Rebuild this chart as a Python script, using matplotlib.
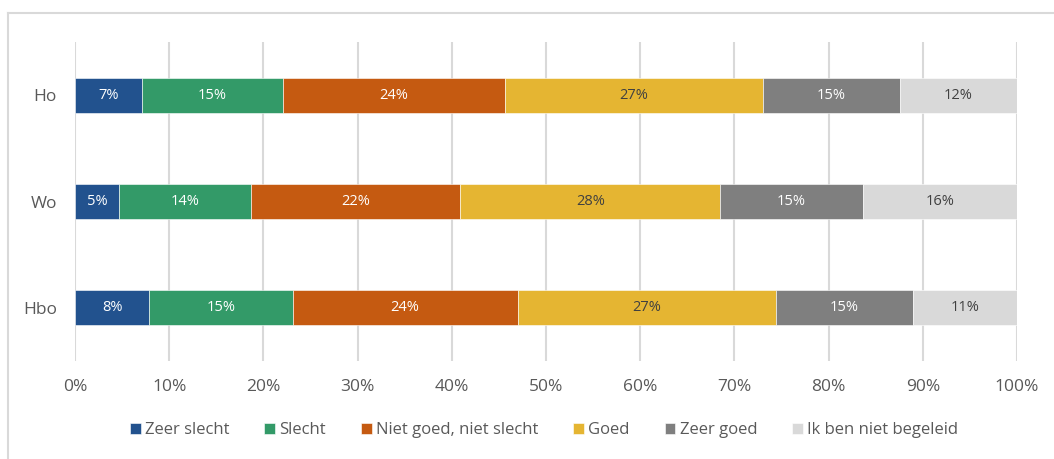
import numpy as np
import matplotlib
matplotlib.use("Agg")
import matplotlib.pyplot as plt
from matplotlib.lines import Line2D

plt.rcParams['font.family'] = ['Open Sans', 'DejaVu Sans']

# Données (en %)
categories = ["Ho", "Wo", "Hbo"]
reponses = ["Zeer slecht", "Slecht", "Niet goed, niet slecht", "Goed",
            "Zeer goed", "Ik ben niet begeleid"]
zeer_slecht = [7.1, 4.7, 7.9]
slecht = [15.0, 14.0, 15.2]
neutraal = [23.5, 22.2, 23.9]
goed = [27.4, 27.6, 27.4]
zeer_goed = [14.6, 15.1, 14.6]
niet_begeleid = [12.4, 16.4, 11.0]

series = [zeer_slecht, slecht, neutraal, goed, zeer_goed, niet_begeleid]
couleurs = ["#22528E", "#339A68", "#C55A11", "#E5B532", "#7F7F7F", "#D9D9D9"]
couleurs_txt = ["white", "white", "white", "#404040", "white", "#404040"]

fig = plt.figure(figsize=(10.54, 4.59), dpi=100)
ax = fig.add_axes([75 / 1054, (459 - 361) / 459, 942 / 1054, 319 / 459])

# cadre gris clair autour du graphique
fig.add_artist(Line2D([8 / 1054, 1], [1 - 13 / 459, 1 - 13 / 459],
                      transform=fig.transFigure, color="#D9D9D9", lw=1.5))
fig.add_artist(Line2D([8 / 1054, 8 / 1054], [0, 1 - 13 / 459],
                      transform=fig.transFigure, color="#D9D9D9", lw=1.5))

y = np.arange(len(categories))
gauche = np.zeros(len(categories))
for vals, nom, c, ct in zip(series, reponses, couleurs, couleurs_txt):
    vals = np.array(vals)
    ax.barh(y, vals, left=gauche, height=0.33, color=c,
            edgecolor="white", linewidth=0.4, label=nom, zorder=3)
    for yi, g, v in zip(y, gauche, vals):
        ax.text(g + v / 2, yi, f"{v:.0f}%", ha="center", va="center",
                color=ct, fontsize=10.5, zorder=4)
    gauche += vals

ax.set_xlim(0, 100)
ax.set_ylim(2.5, -0.5)
ax.set_yticks(y)
ax.set_yticklabels(categories)
ax.set_xticks(np.arange(0, 101, 10))
ax.set_xticklabels([f"{t}%" for t in range(0, 101, 10)])
ax.tick_params(axis="both", length=0, labelsize=12.5, colors="#595959")
ax.tick_params(axis="x", pad=13)
ax.tick_params(axis="y", pad=13)
ax.grid(axis="x", color="#D9D9D9", linewidth=1.5, zorder=0)
for s in ax.spines.values():
    s.set_visible(False)

fig.legend(loc="center", bbox_to_anchor=(0.516, 0.063), ncol=6,
           frameon=False, fontsize=12, handlelength=0.65, handleheight=0.65,
           handletextpad=0.25, columnspacing=2.1, labelcolor="#595959")

fig.savefig("out.png", dpi=100)
